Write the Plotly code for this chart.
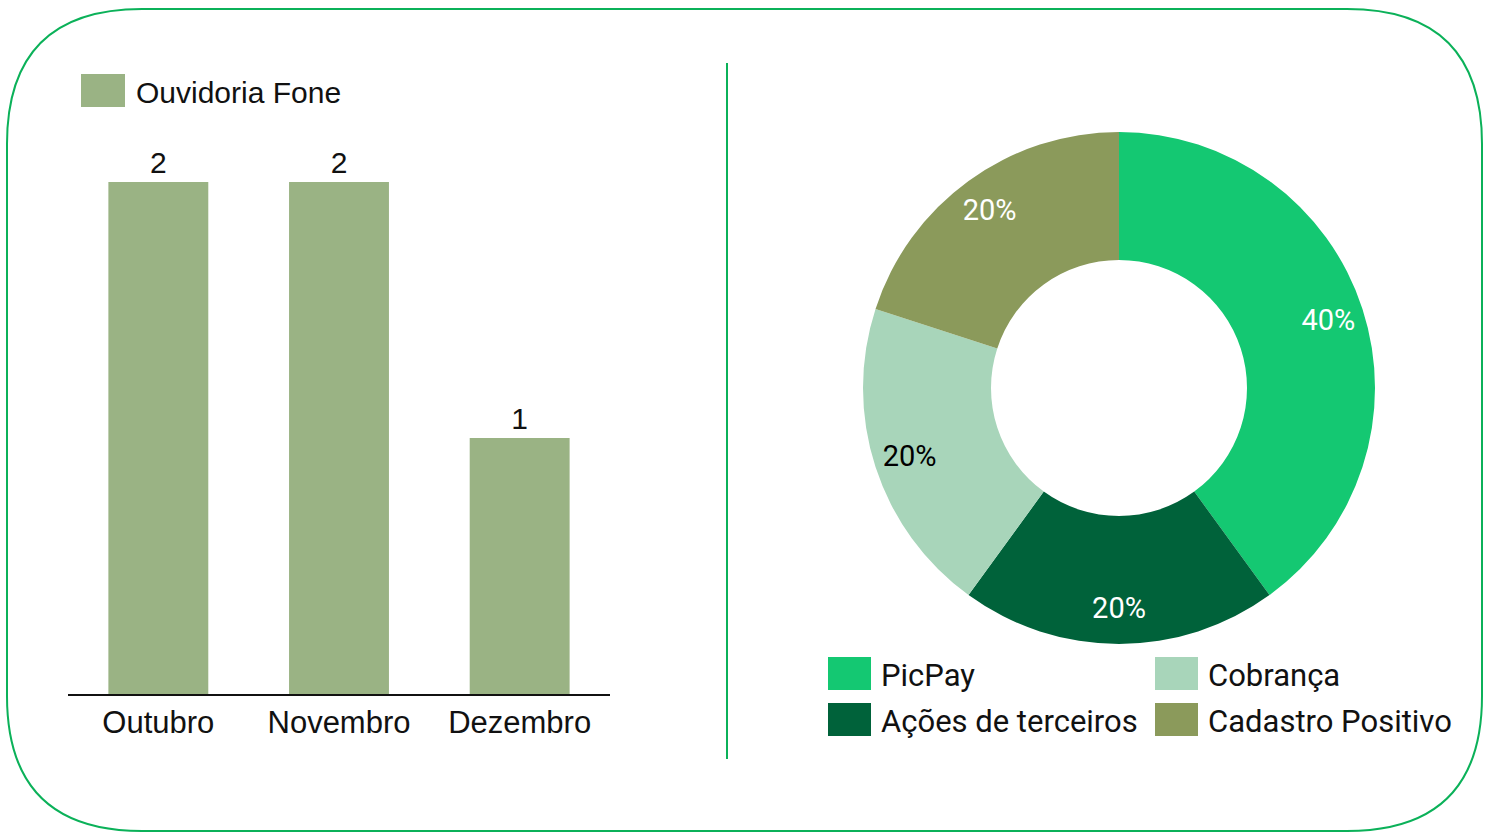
import plotly.graph_objects as go

W, H = 1491, 832

# ---- data ----
months = ["Outubro", "Novembro", "Dezembro"]
ouvidoria_fone = [2, 2, 1]
bar_series_name = "Ouvidoria Fone"

donut_labels = ["PicPay", "Ações de terceiros", "Cobrança", "Cadastro Positivo"]
donut_values = [2, 1, 1, 1]

# ---- styles ----
bar_color = "#9ab384"
donut_colors = ["#14c872", "#00623a", "#a8d5ba", "#8b9a5b"]
donut_text_colors = ["white", "white", "black", "white"]
border_color = "#0bb159"
FONT_L = "Liberation Sans, Arial, sans-serif"
FONT_R = "Roboto, sans-serif"


def px(x):
    return x / W


def py(y):
    return 1 - y / H


fig = go.Figure()

fig.add_trace(go.Bar(
    x=months, y=ouvidoria_fone, name=bar_series_name,
    marker=dict(color=bar_color, line=dict(width=0)),
    texttemplate="%{y}", textposition="outside",
    textfont=dict(family=FONT_L, size=30, color="#111111"),
    cliponaxis=False, showlegend=False, hoverinfo="x+y",
    xaxis="x", yaxis="y",
))

donut_domain = dict(x=[px(863), px(1375)], y=[py(644), py(132)])

# coloured ring
fig.add_trace(go.Pie(
    labels=donut_labels, values=donut_values, hole=0.5,
    sort=False, direction="clockwise", rotation=0,
    marker=dict(colors=donut_colors, line=dict(width=0)),
    textinfo="none",
    domain=donut_domain, showlegend=False,
))

# transparent outer ring that carries the percentage labels
fig.add_trace(go.Pie(
    labels=donut_labels, values=donut_values, hole=0.72,
    sort=False, direction="clockwise", rotation=0,
    marker=dict(colors=["rgba(0,0,0,0)"] * len(donut_values), line=dict(width=0)),
    texttemplate="%{percent:.0%}", textposition="inside",
    insidetextorientation="horizontal",
    textfont=dict(family=FONT_R, size=29, color=donut_text_colors),
    domain=donut_domain, showlegend=False, hoverinfo="skip",
))

y_top = 2.4
zero_px, two_px = 694, 182
unit = (zero_px - two_px) / 2
top_px = zero_px - y_top * unit

fig.update_layout(
    width=W, height=H,
    margin=dict(l=0, r=0, t=0, b=0),
    paper_bgcolor="white", plot_bgcolor="white",
    bargap=0.447,
    xaxis=dict(domain=[px(68), px(610)], showline=True, linecolor="#111111",
               linewidth=2, showgrid=False, zeroline=False, ticks="",
               tickfont=dict(family=FONT_L, size=31, color="#111111"),
               fixedrange=True),
    yaxis=dict(domain=[py(zero_px), py(top_px)], range=[0, y_top], visible=False,
               fixedrange=True),
)

shapes = []
annotations = []

# rounded border
x0, y0, x1, y1, r = 7, 9, 1482, 831, 135
path = (f"M {px(x0 + r)},{py(y0)} L {px(x1 - r)},{py(y0)} "
        f"Q {px(x1)},{py(y0)} {px(x1)},{py(y0 + r)} "
        f"L {px(x1)},{py(y1 - r)} Q {px(x1)},{py(y1)} {px(x1 - r)},{py(y1)} "
        f"L {px(x0 + r)},{py(y1)} Q {px(x0)},{py(y1)} {px(x0)},{py(y1 - r)} "
        f"L {px(x0)},{py(y0 + r)} Q {px(x0)},{py(y0)} {px(x0 + r)},{py(y0)} Z")
shapes.append(dict(type="path", path=path, xref="paper", yref="paper",
                   line=dict(color=border_color, width=2)))

# divider
shapes.append(dict(type="line", xref="paper", yref="paper",
                   x0=px(727), x1=px(727), y0=py(63), y1=py(759),
                   line=dict(color=border_color, width=2)))

# bar legend
shapes.append(dict(type="rect", xref="paper", yref="paper",
                   x0=px(81), x1=px(125), y0=py(107), y1=py(74),
                   fillcolor=bar_color, line=dict(width=0)))
annotations.append(dict(text=bar_series_name, xref="paper", yref="paper",
                        x=px(134), y=py(92), xanchor="left", yanchor="middle",
                        showarrow=False,
                        font=dict(family=FONT_L, size=30, color="#111111")))

# donut legend (2 columns): row 1 PicPay, Cobrança; row 2 Ações, Cadastro
sq_x = [828, 1155]
sq_y = [657, 703]
for pos, idx in enumerate([0, 2, 1, 3]):
    c, rr = pos % 2, pos // 2
    xs, ys = sq_x[c], sq_y[rr]
    shapes.append(dict(type="rect", xref="paper", yref="paper",
                       x0=px(xs), x1=px(xs + 43), y0=py(ys + 33), y1=py(ys),
                       fillcolor=donut_colors[idx], line=dict(width=0)))
    annotations.append(dict(text=donut_labels[idx], xref="paper", yref="paper",
                            x=px(xs + 51), y=py(ys + 18), xanchor="left",
                            yanchor="middle", showarrow=False,
                            font=dict(family=FONT_R, size=31, color="#111111")))

fig.update_layout(shapes=shapes, annotations=annotations)

fig.write_html("out.html", config={"displayModeBar": False},
               post_script="document.body.style.margin='0';document.body.style.overflow='hidden';")
